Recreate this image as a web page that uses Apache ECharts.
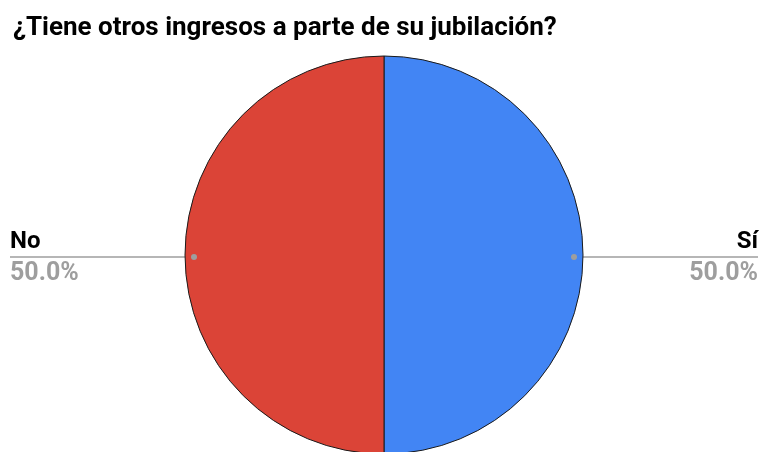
<!DOCTYPE html>
<html>
<head>
<meta charset="utf-8">
<script src="https://cdn.jsdelivr.net/npm/echarts@6/dist/echarts.min.js"></script>
<style>
  html, body { margin: 0; padding: 0; background: #fff; }
  #chart { width: 761px; height: 452px; }
</style>
</head>
<body>
<div id="chart"></div>
<script>
// Answers to the survey question
const categories = ['Sí', 'No'];
const values = [50, 50];
const colors = ['#4285f4', '#db4437'];

const W = 761;
const CX = 384, CY = 255, R = 199;
const LINE_Y = 257;
const DOT_R = R - 9;

const chart = echarts.init(document.getElementById('chart'), null, { renderer: 'canvas' });

const font = 'Roboto, "Noto Sans", Arial, sans-serif';

chart.setOption({
  animation: false,
  title: {
    text: '¿Tiene otros ingresos a parte de su jubilación?',
    left: 8,
    top: 10,
    textStyle: { fontFamily: font, fontSize: 26, fontWeight: 'bold', color: '#000' }
  },
  graphic: [
    { type: 'circle', shape: { cx: CX + DOT_R, cy: LINE_Y, r: 3 }, style: { fill: '#9e9e9e' }, z: 100 },
    { type: 'circle', shape: { cx: CX - DOT_R, cy: LINE_Y, r: 3 }, style: { fill: '#9e9e9e' }, z: 100 }
  ],
  series: [{
    type: 'pie',
    center: [CX, CY],
    radius: R,
    startAngle: 90,
    clockwise: true,
    data: categories.map((name, i) => ({ name, value: values[i], itemStyle: { color: colors[i] } })),
    itemStyle: { borderColor: '#1a1a1a', borderWidth: 1 },
    emphasis: { disabled: true },
    label: {
      show: true,
      formatter: p => '{n|' + p.name + '}\n{p|' + p.percent.toFixed(1) + '%}',
      rich: {
        n: { fontFamily: font, fontSize: 24, fontWeight: 'bold', color: '#000', lineHeight: 33 },
        p: { fontFamily: font, fontSize: 25, fontWeight: 'bold', color: '#9e9e9e', lineHeight: 31 }
      }
    },
    labelLine: { show: true, lineStyle: { color: '#9e9e9e', width: 1.5 } },
    labelLayout: function (params) {
      const right = params.dataIndex === 0;
      const dotX = right ? CX + DOT_R : CX - DOT_R;
      const endX = right ? W - 3 : 10;
      return {
        x: endX,
        y: LINE_Y,
        align: right ? 'right' : 'left',
        verticalAlign: 'middle',
        labelLinePoints: [[dotX, LINE_Y], [(dotX + endX) / 2, LINE_Y], [endX, LINE_Y]]
      };
    }
  }]
});
</script>
</body>
</html>
